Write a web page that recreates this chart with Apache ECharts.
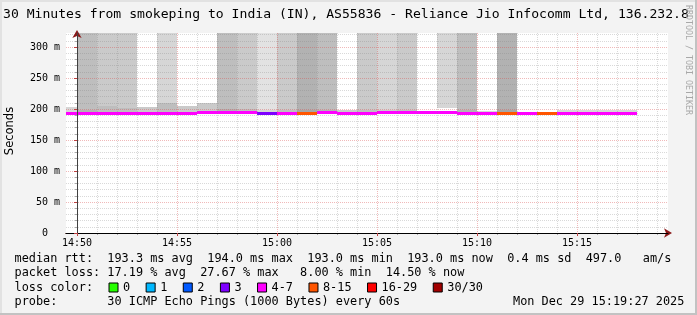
<!DOCTYPE html>
<html><head><meta charset="utf-8">
<script src="https://cdn.jsdelivr.net/npm/echarts@6/dist/echarts.min.js"></script>
<style>html,body{margin:0;padding:0;background:#f3f3f3}#c{width:697px;height:315px}</style>
</head><body><div id="c"></div>
<script>
// ---- data (one entry per 1-minute step) ----
const times = ['14:49','14:50','14:51','14:52','14:53','14:54','14:55','14:56','14:57','14:58','14:59','15:00','15:01','15:02','15:03','15:04','15:05','15:06','15:07','15:08','15:09','15:10','15:11','15:12','15:13','15:14','15:15','15:16','15:17'];
const medianMs = [193.2,193.0,193.1,193.0,193.2,193.0,193.1,193.6,193.8,193.7,193.5,193.4,193.5,193.6,193.4,193.5,193.6,193.8,194.0,193.7,193.4,193.3,193.4,193.2,193.1,193.0,193.2,193.1,193.0];
const lossCount = [5,6,5,6,4,5,4,5,6,5,3,5,8,6,4,5,6,5,4,5,6,4,8,5,8,5,4,5,4];
const smokeMin = [192.5,192.5,192.5,192.5,192.5,192.5,192.5,192.5,192.5,192.5,192.5,192.5,192.5,192.5,192.5,192.5,192.5,192.5,192.5,192.5,192.5,192.5,192.5,192.5,192.5,192.5,190.5,190.5,192.5];
const lowTop = [203.5,199,205,202,203,209,205,210,200,200,199,199,199,199,198.5,199,199,199,197,197,199,197,199,194.5,194.5,198,198,198,198];
const lowDensity = [2,5,4,4,3,4,3,3,5,4,2,4,6,5,3,4,3,4,2,3,5,2,6,2,2,2,2,2,2];
const upperFrom = [null,199,205,202,null,209,null,null,200,200,199,199,199,199,null,199,199,199,null,201.5,199,null,199,null,null,null,null,null,null];
const upperDensity = [0,4,3,3,0,2,0,0,4,3,1,3,5,4,0,3,2,3,0,2,4,0,5,0,0,0,0,0,0];

const xTickLabels = ['14:50','14:55','15:00','15:05','15:10','15:15'];
const yTickValues = [0,50,100,150,200,250,300];
const yTickLabels = ['0  ','50 m','100 m','150 m','200 m','250 m','300 m'];

const lossBuckets = ['0','1','2','3','4-7','8-15','16-29','30/30'];
const lossBucketMax = [0,1,2,3,7,15,29,30];
const lossColors = ['#26ff00','#00b8ff','#0059ff','#7e00ff','#ff00ff','#ff5500','#ff0000','#a10000'];

// ---- helpers ----
const BASE = 14*60+50;
function toMin(s){ const p = s.split(':'); return (+p[0])*60 + (+p[1]) - BASE; }
const X_MIN = -0.55, X_MAX = 29.55, Y_MAX = 322.5;
const MONO = '"DejaVu Sans Mono", "Liberation Mono", monospace';

const smokeData = [];
times.forEach((t,i)=>{
  const m = toMin(t);
  smokeData.push([m, smokeMin[i], lowTop[i], lowDensity[i]]);
  if (upperFrom[i] != null) smokeData.push([m, upperFrom[i], Y_MAX, upperDensity[i]]);
});
function bucketOf(c){ for (let k=0;k<lossBucketMax.length;k++) if (c<=lossBucketMax[k]) return k; return lossBucketMax.length-1; }
const medianByBucket = lossBuckets.map(()=>[]);
times.forEach((t,i)=>{ medianByBucket[bucketOf(lossCount[i])].push([toMin(t), medianMs[i]]); });

const majorMin = xTickLabels.map(toMin);
const minorMin = [];
for (let m = 0; m <= 29; m++) if (majorMin.indexOf(m) < 0) minorMin.push(m);
const yMinor = [];
for (let v = 10; v <= 320; v += 10) if (v % 50) yMinor.push(v);

function shade(d){ const g = Math.round(238 - 12*d); return 'rgb('+g+','+g+','+g+')'; }

function renderSmoke(params, api){
  const cs = params.coordSys;
  const t = api.value(0), lo = api.value(1), hi = api.value(2), d = api.value(3);
  const a = api.coord([t, hi]), b = api.coord([t+1, lo]);
  const x0 = Math.round(a[0]), x1 = Math.round(b[0]);
  const y0 = Math.round(a[1]), y1 = Math.round(b[1]);
  const r = echarts.graphic.clipRectByRect({x:x0, y:y0, width:x1-x0, height:y1-y0},
    {x:cs.x, y:cs.y, width:cs.width, height:cs.height});
  if (!r) return;
  return {type:'rect', shape:r, style:{fill:shade(d)}};
}
function renderMedian(params, api){
  const cs = params.coordSys;
  const t = api.value(0), m = api.value(1);
  const a = api.coord([t, m]), b = api.coord([t+1, m]);
  const x0 = Math.max(Math.round(a[0]), cs.x), x1 = Math.min(Math.round(b[0]), cs.x+cs.width);
  if (x1 <= x0) return;
  return {type:'rect', shape:{x:x0, y:Math.round(a[1]-1.5), width:x1-x0, height:3}, style:{fill:api.visual('color')}};
}

const series = [{
  type:'custom', name:'smoke', renderItem:renderSmoke, data:smokeData,
  encode:{x:0, y:[1,2]}, z:2, silent:true
}];
lossBuckets.forEach((b,k)=>{
  series.push({type:'custom', name:b, renderItem:renderMedian, data:medianByBucket[k],
    encode:{x:0, y:1}, itemStyle:{color:lossColors[k]}, z:3, silent:true});
});

function txt(text, x, y, font, extra){
  return {type:'text', x:x, y:y, silent:true,
    style:Object.assign({text:text, font:font, fill:'#000', align:'left', textAlign:'left',
      verticalAlign:'middle', textVerticalAlign:'middle'}, extra||{})};
}

const option = {
  animation:false,
  backgroundColor:'#f3f3f3',
  grid:{left:66, top:33, width:602, height:200, show:true, backgroundColor:'#ffffff', borderWidth:0},
  xAxis:[{
    type:'value', min:X_MIN, max:X_MAX, position:'bottom', z:5,
    axisLine:{show:true, lineStyle:{color:'#000', width:1}},
    axisTick:{show:true, customValues:majorMin, length:3, lineStyle:{color:'#c04040'}},
    axisLabel:{show:true, customValues:majorMin, margin:5, color:'#000', fontFamily:MONO, fontSize:10,
      formatter:(v)=>{ const k = majorMin.indexOf(Math.round(v)); return k>=0 ? xTickLabels[k] : ''; }},
    splitLine:{show:true, lineStyle:{color:'rgba(215,70,70,0.38)', type:[1,1], width:1}}
  },{
    type:'value', min:X_MIN, max:X_MAX, position:'bottom', z:4,
    axisLine:{show:true, symbol:['none','arrow'], symbolSize:[7,8], symbolOffset:[0,4], lineStyle:{color:'#8b1a1a'}},
    axisTick:{show:true, customValues:minorMin, length:2, lineStyle:{color:'#aaa'}},
    axisLabel:{show:false},
    splitLine:{show:true, lineStyle:{color:'rgba(130,130,130,0.3)', type:[1,1], width:1}}
  }],
  yAxis:[{
    type:'value', min:0, max:Y_MAX, position:'left', z:5,
    axisLine:{show:true, lineStyle:{color:'#404040', width:1}},
    axisTick:{show:true, customValues:yTickValues, length:3, lineStyle:{color:'#c04040'}},
    axisLabel:{show:true, customValues:yTickValues, margin:6, color:'#000', fontFamily:MONO, fontSize:10,
      formatter:(v)=>{ const k = yTickValues.indexOf(Math.round(v)); return k>=0 ? yTickLabels[k] : ''; }},
    splitLine:{show:true, lineStyle:{color:'rgba(215,70,70,0.38)', type:[1,1], width:1}}
  },{
    type:'value', min:0, max:Y_MAX, position:'left', z:4,
    axisLine:{show:true, symbol:['none','arrow'], symbolSize:[7,8], symbolOffset:[0,3], lineStyle:{color:'#8b1a1a'}},
    axisTick:{show:true, customValues:yMinor, length:2, lineStyle:{color:'#aaa'}},
    axisLabel:{show:false},
    splitLine:{show:true, lineStyle:{color:'rgba(130,130,130,0.3)', type:[1,1], width:1}}
  }],
  legend:{
    data:lossBuckets, left:108.5, top:281, padding:0, itemWidth:9, itemHeight:9, itemGap:15.5,
    icon:'rect', selectedMode:false,
    itemStyle:{borderColor:'#000', borderWidth:1},
    textStyle:{fontFamily:MONO, fontSize:11.86, color:'#000', lineHeight:13}
  },
  series:series,
  graphic:[
    {type:'rect', shape:{x:0,y:0,width:697,height:2}, style:{fill:'#e2e2e2'}, silent:true},
    {type:'rect', shape:{x:0,y:0,width:2,height:315}, style:{fill:'#e2e2e2'}, silent:true},
    {type:'rect', shape:{x:0,y:313,width:697,height:2}, style:{fill:'#c2c2c2'}, silent:true},
    {type:'rect', shape:{x:695,y:0,width:2,height:315}, style:{fill:'#c2c2c2'}, silent:true},
    txt('30 Minutes from smokeping to India (IN), AS55836 - Reliance Jio Infocomm Ltd, 136.232.8', 3, 14.5, '13.1px '+MONO),
    Object.assign(txt('RRDTOOL / TOBI OETIKER', 688.5, 60, '8.3px '+MONO, {fill:'#a8a8a8', align:'center', textAlign:'center'}), {rotation:-Math.PI/2}),
    Object.assign(txt('Seconds', 10, 131, '11.5px "DejaVu Sans", sans-serif', {align:'center', textAlign:'center'}), {rotation:Math.PI/2}),
    txt('median rtt:  193.3 ms avg  194.0 ms max  193.0 ms min  193.0 ms now  0.4 ms sd  497.0   am/s', 14.5, 259.2, '11.86px '+MONO),
    txt('packet loss: 17.19 % avg  27.67 % max   8.00 % min  14.50 % now', 14.5, 273.4, '11.86px '+MONO),
    txt('loss color:', 14.5, 287.6, '11.86px '+MONO),
    txt('probe:       30 ICMP Echo Pings (1000 Bytes) every 60s', 14.5, 301.8, '11.86px '+MONO),
    txt('Mon Dec 29 15:19:27 2025', 513, 301.8, '11.86px '+MONO)
  ]
};
const chart = echarts.init(document.getElementById('c'), null, {renderer:'canvas'});
chart.setOption(option);
</script></body></html>
